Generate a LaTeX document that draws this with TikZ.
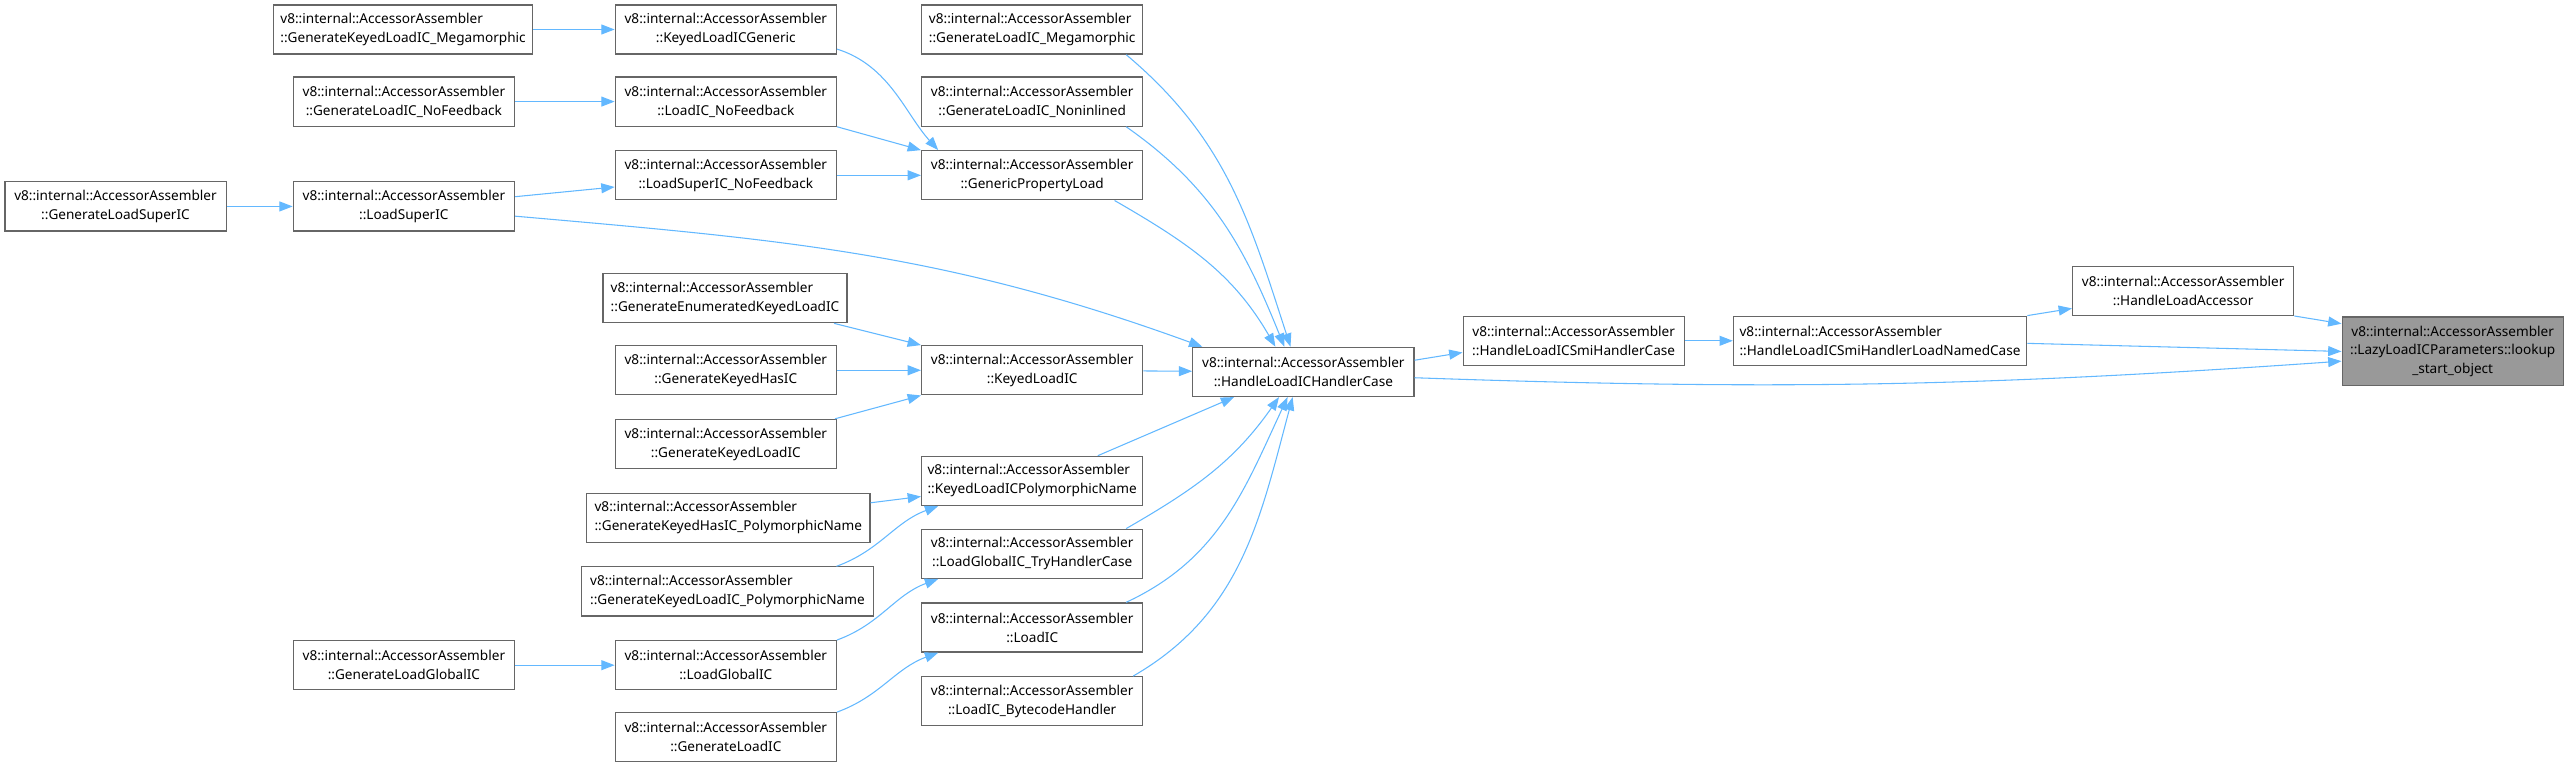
\documentclass[tikz,border=0pt]{standalone}
\usepackage{fontspec}
\setmainfont{Noto Sans}
\usepackage{tikz}
\usetikzlibrary{arrows.meta, positioning, calc}
\definecolor{edgeblue}{HTML}{63B8FF}
\definecolor{boxgray}{HTML}{666666}
\definecolor{rootgray}{HTML}{999999}

\begin{document}
\begin{tikzpicture}[x=1.2286pt, y=1.2286pt,
    fn/.style={draw=boxgray, line width=0.9pt, fill=white, align=center,
        minimum width=135*1.2286pt, minimum height=30*1.2286pt, inner sep=1pt,
        font=\fontsize{10.2}{14.2}\selectfont},
    boxw/.style={minimum width=#1*1.2286pt},
    edge/.style={draw=edgeblue, line width=0.8pt, -{Triangle[length=10pt, width=7.5pt]}}]
    \useasboundingbox (0,0) rectangle (1568,-469);

    % top rows
    \node[fn, align=left, boxw=158] (gklMega) at (246,-18) {v8::internal::AccessorAssembler\\::GenerateKeyedLoadIC\_Megamorphic};
    \node[fn] (klGeneric) at (443,-18) {v8::internal::AccessorAssembler\\::KeyedLoadICGeneric};
    \node[fn, align=left] (glMega) at (630,-18) {v8::internal::AccessorAssembler\\::GenerateLoadIC\_Megamorphic};
    \node[fn] (glNoFb) at (246.5,-62) {v8::internal::AccessorAssembler\\::GenerateLoadIC\_NoFeedback};
    \node[fn] (lNoFb) at (443,-62) {v8::internal::AccessorAssembler\\::LoadIC\_NoFeedback};
    \node[fn] (glNonin) at (630,-62) {v8::internal::AccessorAssembler\\::GenerateLoadIC\_Noninlined};
    \node[fn] (lsNoFb) at (443,-107) {v8::internal::AccessorAssembler\\::LoadSuperIC\_NoFeedback};
    \node[fn] (genProp) at (630,-107) {v8::internal::AccessorAssembler\\::GenericPropertyLoad};
    \node[fn] (genLoadSuper) at (70.5,-126) {v8::internal::AccessorAssembler\\::GenerateLoadSuperIC};
    \node[fn] (loadSuper) at (246.5,-126) {v8::internal::AccessorAssembler\\::LoadSuperIC};

    % middle rows
    \node[fn, align=left, boxw=149] (genEnumKL) at (442.5,-182) {v8::internal::AccessorAssembler\\::GenerateEnumeratedKeyedLoadIC};
    \node[fn] (genKHas) at (443,-226) {v8::internal::AccessorAssembler\\::GenerateKeyedHasIC};
    \node[fn] (keyedLoad) at (630,-226) {v8::internal::AccessorAssembler\\::KeyedLoadIC};
    \node[fn] (hlichc) at (795.5,-227) {v8::internal::AccessorAssembler\\::HandleLoadICHandlerCase};
    \node[fn] (smiCase) at (960.5,-208) {v8::internal::AccessorAssembler\\::HandleLoadICSmiHandlerCase};
    \node[fn, align=left, boxw=179] (smiNamed) at (1147.5,-208) {v8::internal::AccessorAssembler\\::HandleLoadICSmiHandlerLoadNamedCase};
    \node[fn] (hlAccessor) at (1332.5,-177.5) {v8::internal::AccessorAssembler\\::HandleLoadAccessor};
    \node[fn, fill=rootgray, minimum height=42*1.2286pt] (root) at (1497,-214.5) {v8::internal::AccessorAssembler\\::LazyLoadICParameters::lookup\\\_start\_object};

    % bottom rows
    \node[fn] (genKL) at (443,-271) {v8::internal::AccessorAssembler\\::GenerateKeyedLoadIC};
    \node[fn, align=left] (klPoly) at (630,-293.5) {v8::internal::AccessorAssembler\\::KeyedLoadICPolymorphicName};
    \node[fn, align=left, boxw=173] (genKHasPoly) at (444.5,-316) {v8::internal::AccessorAssembler\\::GenerateKeyedHasIC\_PolymorphicName};
    \node[fn] (lgTry) at (630,-338) {v8::internal::AccessorAssembler\\::LoadGlobalIC\_TryHandlerCase};
    \node[fn, align=left, boxw=178] (genKLPoly) at (444,-361) {v8::internal::AccessorAssembler\\::GenerateKeyedLoadIC\_PolymorphicName};
    \node[fn] (loadIC) at (630,-383) {v8::internal::AccessorAssembler\\::LoadIC};
    \node[fn] (genLG) at (246.5,-406) {v8::internal::AccessorAssembler\\::GenerateLoadGlobalIC};
    \node[fn] (loadGlobal) at (443,-406) {v8::internal::AccessorAssembler\\::LoadGlobalIC};
    \node[fn] (lBytecode) at (630,-428) {v8::internal::AccessorAssembler\\::LoadIC\_BytecodeHandler};
    \node[fn] (genLoadIC) at (443,-450) {v8::internal::AccessorAssembler\\::GenerateLoadIC};

    % calls into the top half
    \draw[edge] (gklMega) -- (klGeneric);
    \draw[edge] (glNoFb) -- (lNoFb);
    \draw[edge] (genLoadSuper) -- (loadSuper);
    \draw[edge] (loadSuper.5) -- (lsNoFb.186);
    \draw[edge] (klGeneric.-10) .. controls +(32,-10) and +(-20,22) .. (genProp.165);
    \draw[edge] (lNoFb.south east) -- (genProp.north west);
    \draw[edge] (lsNoFb) -- (genProp);
    \draw[edge] (glMega.-15) to[out=-40, in=108] (hlichc.117);
    \draw[edge] (glNonin.-15) to[out=-35, in=112] (hlichc.127);
    \draw[edge] (genProp.-17) to[out=-30, in=120] (hlichc.138);
    \draw[edge] (loadSuper.-5) to[out=-5, in=160] (hlichc.166);

    % keyed load
    \draw[edge] (genEnumKL.-13) -- (keyedLoad.north west);
    \draw[edge] (genKHas) -- (keyedLoad);
    \draw[edge] (genKL.13) -- (keyedLoad.south west);
    \draw[edge] (keyedLoad) -- (hlichc);

    % towards the root
    \draw[edge] (hlichc.6) -- (smiCase.186);
    \draw[edge] (hlichc.-3) to[out=-2, in=184] (root.185);
    \draw[edge] (smiCase) -- (smiNamed);
    \draw[edge] (smiNamed.north east) -- (hlAccessor.189);
    \draw[edge] (smiNamed.-1) -- (root.west);
    \draw[edge] (hlAccessor.south east) -- (root.166);

    % calls into the bottom half
    \draw[edge] (klPoly.21) -- (hlichc.200);
    \draw[edge] (lgTry.15) to[out=30, in=-125] (hlichc.226);
    \draw[edge] (loadIC.15) to[out=25, in=-115] (hlichc.238);
    \draw[edge] (lBytecode.14) to[out=30, in=-105] (hlichc.247);
    \draw[edge] (genKHasPoly.6) -- (klPoly.188);
    \draw[edge] (genKLPoly.13) to[out=20, in=200] (klPoly.195);
    \draw[edge] (loadGlobal.north east) to[out=20, in=200] (lgTry.195);
    \draw[edge] (genLoadIC.north east) to[out=20, in=200] (loadIC.195);
    \draw[edge] (genLG) -- (loadGlobal);
\end{tikzpicture}
\end{document}
